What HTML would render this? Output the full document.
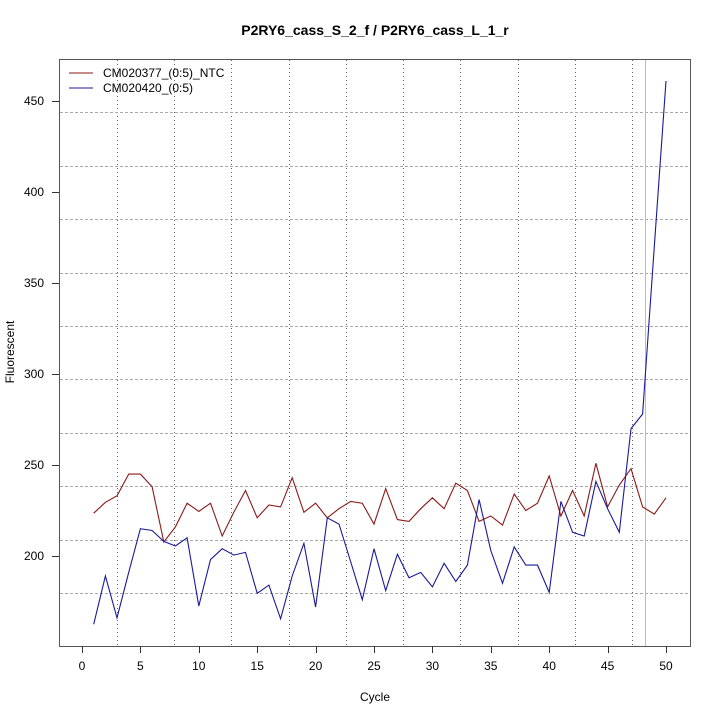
<!DOCTYPE html>
<html><head><meta charset="utf-8"><style>body{margin:0;background:#fff}svg{display:block}text{font-family:"Liberation Sans",sans-serif;font-size:12px;fill:#000}</style></head>
<body>
<svg id="s" width="720" height="720" xmlns="http://www.w3.org/2000/svg">
<rect width="720" height="720" fill="#fff"/>
<text x="375" y="35" text-anchor="middle" style="font-weight:bold;font-size:14px">P2RY6_cass_S_2_f / P2RY6_cass_L_1_r</text>
<text x="375" y="701" text-anchor="middle">Cycle</text>
<text x="14" y="352" text-anchor="middle" transform="rotate(-90 14 352)">Fluorescent</text>
<g id="grid"></g>
<line x1="645.5" y1="59" x2="645.5" y2="646" stroke="#bbbbbb" stroke-width="1"/>
<g id="ser"></g>
<rect x="59.5" y="59.5" width="631" height="587" fill="none" stroke="#555" stroke-width="1"/>
<g id="ax"></g>
<line x1="69" y1="73" x2="93" y2="73" stroke="#8b1a1a"/>
<line x1="69" y1="88" x2="93" y2="88" stroke="#1a1a9b"/>
<text x="103" y="77">CM020377_(0:5)_NTC</text>
<text x="103" y="92">CM020420_(0:5)</text>
</svg>
<script>
var NS="http://www.w3.org/2000/svg";
function el(p,t,a,txt){var e=document.createElementNS(NS,t);for(var k in a)e.setAttribute(k,a[k]);if(txt!=null)e.textContent=txt;document.getElementById(p).appendChild(e);}
for(var k=0;k<10;k++){var x=Math.round(116.7+57.3*k)+0.5;el("grid","line",{x1:x,y1:60,x2:x,y2:646,stroke:"#666","stroke-dasharray":"1,3"});}
for(var k=0;k<10;k++){var y=Math.round(112.3+53.4*k)+0.5;el("grid","line",{x1:60,y1:y,x2:690,y2:y,stroke:"#aaa","stroke-dasharray":"3,2"});}
function X(c){return 82+c*11.68;}function Y(v){return 556-(v-200)*1.82;}
for(var c=0;c<=50;c+=5){var xx=Math.round(X(c))+0.5;el("ax","line",{x1:xx,y1:646,x2:xx,y2:653,stroke:"#333"});el("ax","text",{x:X(c),y:670,"text-anchor":"middle"},String(c));}
for(var v=200;v<=450;v+=50){var yy=Math.round(Y(v))+0.5;el("ax","line",{x1:52,y1:yy,x2:59,y2:yy,stroke:"#333"});el("ax","text",{x:44,y:Y(v)+4,"text-anchor":"end"},String(v));}
var red=[223.5,229.5,233,245,245,238,207.7,216,229,224.5,229,211,224,236,221,228,227,243,224,229,221,226,230,229,217.5,237,220,219,226,232,226,240,236,219,222,217,234,225,229,244,222,236,222,251,227,239,248,227,223,232];
var blue=[162.5,189,166,191,215,214,208,205.5,210,172.5,198,204,200.5,202,179.5,184,165.5,189,207,172,221,217.5,197,176,204,181,201,188,191,183,196,186,195,231,203,185,205,195,195,180,230,213,211,241,226,213,270,278,370,461];
function pl(d,col){el("ser","polyline",{points:d.map(function(v,i){return X(i+1).toFixed(1)+","+Y(v).toFixed(1)}).join(" "),fill:"none",stroke:col,"stroke-width":1.1});}
pl(red,"#8b1a1a");pl(blue,"#1a1a9b");
</script>
</body></html>
